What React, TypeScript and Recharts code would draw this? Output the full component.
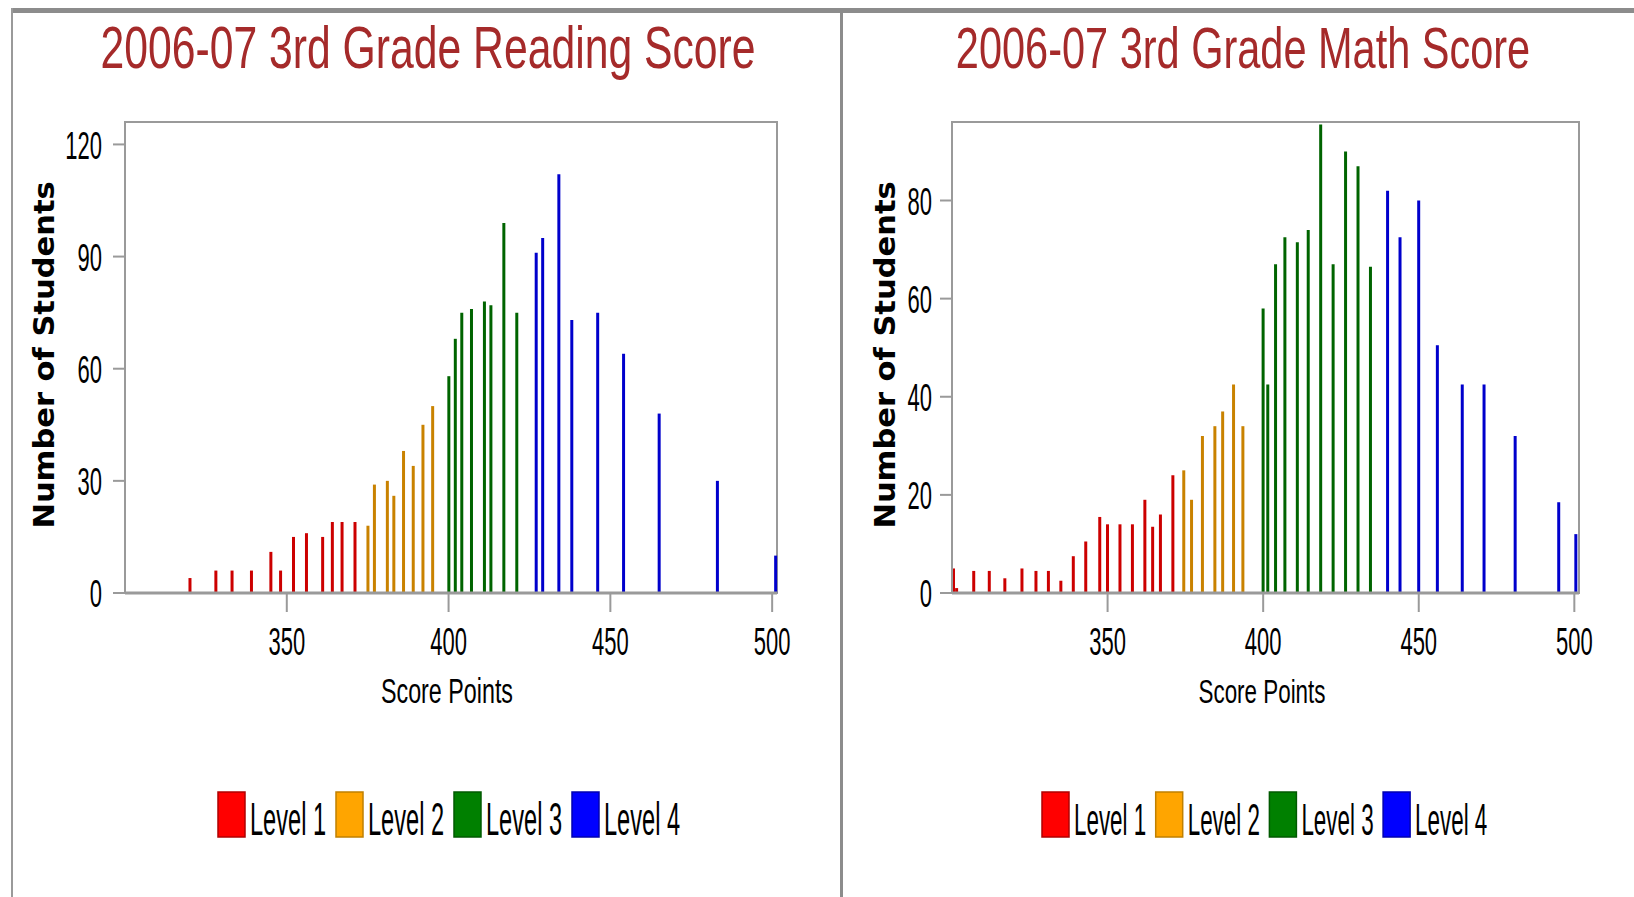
import React from 'react';
import { BarChart, Bar, XAxis, YAxis, Cell, ReferenceArea } from 'recharts';

// reading scores
const readingScores = [
  320, 328, 333, 339, 345, 348, 352, 356, 361, 364, 367, 371,
  375, 377, 381, 383, 386, 389, 392, 395,
  400, 402, 404, 407, 411, 413, 417, 421,
  427, 429, 434, 438, 446, 454, 465, 483, 501,
];
const readingCounts = [
  4, 6, 6, 6, 11, 6, 15, 16, 15, 19, 19, 19,
  18, 29, 30, 26, 38, 34, 45, 50,
  58, 68, 75, 76, 78, 77, 99, 75,
  91, 95, 112, 73, 75, 64, 48, 30, 10,
];
const readingLevels = [
  1, 1, 1, 1, 1, 1, 1, 1, 1, 1, 1, 1,
  2, 2, 2, 2, 2, 2, 2, 2,
  3, 3, 3, 3, 3, 3, 3, 3,
  4, 4, 4, 4, 4, 4, 4, 4, 4,
];

// math scores
const mathScores = [
  300.5, 301.5, 307, 312, 317, 322.5, 327, 331, 335, 339, 343, 347.5, 350, 354, 358, 362, 364.5, 367, 371,
  374.5, 377, 380.5, 384.5, 387, 390.5, 393.5,
  400, 401.5, 404, 407, 411, 414.5, 418.5, 422.5, 426.5, 430.5, 434.5,
  440, 444, 450, 456, 464, 471, 481, 495, 500.5,
];
const mathCounts = [
  5, 1, 4.5, 4.5, 3, 5, 4.5, 4.5, 2.5, 7.5, 10.5, 15.5, 14, 14, 14, 19, 13.5, 16, 24,
  25, 19, 32, 34, 37, 42.5, 34,
  58, 42.5, 67, 72.5, 71.5, 74, 95.5, 67, 90, 87, 66.5,
  82, 72.5, 80, 50.5, 42.5, 42.5, 32, 18.5, 12,
];
const mathLevels = [
  1, 1, 1, 1, 1, 1, 1, 1, 1, 1, 1, 1, 1, 1, 1, 1, 1, 1, 1,
  2, 2, 2, 2, 2, 2, 2,
  3, 3, 3, 3, 3, 3, 3, 3, 3, 3, 3,
  4, 4, 4, 4, 4, 4, 4, 4, 4,
];

const xTicks = [350, 400, 450, 500];
const readingYTicks = [0, 30, 60, 90, 120];
const mathYTicks = [0, 20, 40, 60, 80];
const levelNames = ['Level 1', 'Level 2', 'Level 3', 'Level 4'];

const barColors = ['#cc0000', '#c98200', '#006400', '#0000cc'];
const legendColors = ['#ff0000', '#ffa500', '#008000', '#0000ff'];
const legendBorders = ['#b00000', '#c08000', '#005a00', '#0000b0'];

const FONT = '"Liberation Sans", Arial, sans-serif';
const GRAY = '#9a9a9a';

const toRows = (scores: number[], counts: number[], levels: number[]) =>
  scores.map((s, i) => ({ score: s, count: counts[i], level: levels[i] }));

const XTick = (props: any) => {
  const { x, y, payload } = props;
  return (
    <text transform={`translate(${x},${y + 43}) scale(1,1.75)`} textAnchor="middle"
      fontFamily={FONT} fontSize={22} fill="#000">
      {payload.value}
    </text>
  );
};

const YTick = (props: any) => {
  const { x, y, payload } = props;
  return (
    <text transform={`translate(${x},${y}) scale(1,1.78)`} textAnchor="end" dy="0.36em"
      fontFamily={FONT} fontSize={22} fill="#000">
      {payload.value}
    </text>
  );
};

function ScoreChart({ rows, left, width, margin, yMax, yTicks, yTickMargin }: any) {
  return (
    <div style={{ position: 'absolute', left, top: 0 }}>
      <BarChart width={width} height={700} data={rows} margin={margin}>
        <ReferenceArea x1={300} x2={501.5} y1={0} y2={yMax} fill="none" stroke={GRAY} strokeWidth={2} />
        <XAxis type="number" dataKey="score" domain={[300, 501.5]} ticks={xTicks} height={30}
          tickSize={19} tickMargin={0} tick={XTick}
          axisLine={{ stroke: GRAY, strokeWidth: 3 }} tickLine={{ stroke: GRAY, strokeWidth: 2 }} />
        <YAxis type="number" domain={[0, yMax]} ticks={yTicks} width={60}
          tickSize={12} tickMargin={yTickMargin} tick={YTick}
          axisLine={{ stroke: GRAY, strokeWidth: 2 }} tickLine={{ stroke: GRAY, strokeWidth: 2 }} />
        <Bar dataKey="count" barSize={3} isAnimationActive={false}>
          {rows.map((r: any, i: number) => (
            <Cell key={`c-${i}`} fill={barColors[r.level - 1]} />
          ))}
        </Bar>
      </BarChart>
    </div>
  );
}

function LevelLegend({ x0, stride, fontSize }: any) {
  return (
    <g>
      {levelNames.map((name, i) => {
        const x = x0 + i * stride;
        return (
          <g key={name}>
            <rect x={x} y={792} width={27} height={45} fill={legendColors[i]}
              stroke={legendBorders[i]} strokeWidth={1.5} />
            <text transform={`translate(${x + 32},835) scale(1,1.95)`} fontFamily={FONT}
              fontSize={fontSize} fill="#000">{name}</text>
          </g>
        );
      })}
    </g>
  );
}

export default function App() {
  const readingRows = toRows(readingScores, readingCounts, readingLevels);
  const mathRows = toRows(mathScores, mathCounts, mathLevels);

  return (
    <div style={{ position: 'absolute', left: 0, top: 0, width: 1634, height: 897, background: '#fff', overflow: 'hidden' }}>
      <ScoreChart rows={readingRows} left={0} width={800} yMax={126} yTicks={readingYTicks}
        yTickMargin={11} margin={{ top: 122, right: 23, bottom: 77, left: 65 }} />
      <ScoreChart rows={mathRows} left={841} width={780} yMax={96} yTicks={mathYTicks}
        yTickMargin={8} margin={{ top: 122, right: 42, bottom: 77, left: 51 }} />

      <svg width={1634} height={897} style={{ position: 'absolute', left: 0, top: 0, pointerEvents: 'none' }}>
        {/* frame */}
        <rect x={12} y={8} width={1622} height={5} fill="#8c8c8c" />
        <rect x={11} y={8} width={2} height={889} fill={GRAY} />
        <rect x={840} y={8} width={3} height={889} fill="#8c8c8c" />

        {/* titles */}
        <text transform="translate(428,68) scale(1,1.37)" textAnchor="middle" fontFamily={FONT}
          fontSize={42.7} fill="#a52a2a">2006-07 3rd Grade Reading Score</text>
        <text transform="translate(1243,68) scale(1,1.37)" textAnchor="middle" fontFamily={FONT}
          fontSize={41.5} fill="#a52a2a">2006-07 3rd Grade Math Score</text>

        {/* axis titles */}
        <text transform="translate(447,703) scale(1,1.5)" textAnchor="middle" fontFamily={FONT}
          fontSize={23.3} fill="#000">Score Points</text>
        <text transform="translate(1262,703) scale(1,1.5)" textAnchor="middle" fontFamily={FONT}
          fontSize={22.4} fill="#000">Score Points</text>
        <text transform="translate(43.5,355) rotate(-90) scale(1.09,1)" textAnchor="middle" dy="0.36em"
          fontFamily='"DejaVu Sans", Verdana, sans-serif' fontWeight="bold" fontSize={28} fill="#000">Number of Students</text>
        <text transform="translate(885,355) rotate(-90) scale(1.09,1)" textAnchor="middle" dy="0.36em"
          fontFamily='"DejaVu Sans", Verdana, sans-serif' fontWeight="bold" fontSize={28} fill="#000">Number of Students</text>

        <LevelLegend x0={218} stride={118} fontSize={23.6} />
        <LevelLegend x0={1042} stride={113.7} fontSize={22.4} />
      </svg>
    </div>
  );
}
